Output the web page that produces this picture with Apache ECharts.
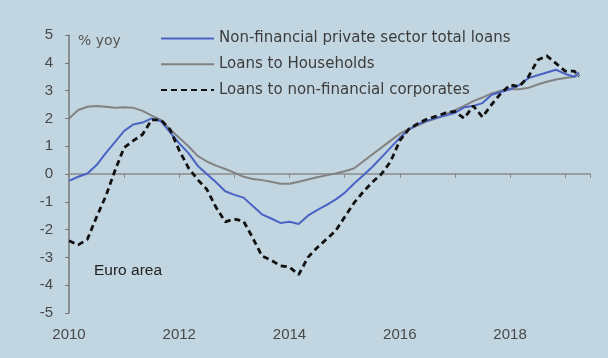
<!DOCTYPE html>
<html>
<head>
<meta charset="utf-8">
<script src="https://cdn.jsdelivr.net/npm/echarts@6/dist/echarts.min.js"></script>
<style>html,body{margin:0;padding:0;background:#c2d6e1;}#c{width:608px;height:358px;}</style>
</head>
<body>
<div id="c"></div>
<script>
// Bi-monthly observation dates
const dates = [
 '2010-01','2010-03','2010-05','2010-07','2010-09','2010-11',
 '2011-01','2011-03','2011-05','2011-07','2011-09','2011-11',
 '2012-01','2012-03','2012-05','2012-07','2012-09','2012-11',
 '2013-01','2013-03','2013-05','2013-07','2013-09','2013-11',
 '2014-01','2014-03','2014-05','2014-07','2014-09','2014-11',
 '2015-01','2015-03','2015-05','2015-07','2015-09','2015-11',
 '2016-01','2016-03','2016-05','2016-07','2016-09','2016-11',
 '2017-01','2017-03','2017-05','2017-07','2017-09','2017-11',
 '2018-01','2018-03','2018-05','2018-07','2018-09','2018-11',
 '2019-01','2019-03','2019-04'
];
// Non-financial private sector total loans (% yoy)
const totalLoans = [
 -0.25,-0.1,0.02,0.32,0.75,1.15,
 1.55,1.78,1.85,2.0,1.9,1.5,
 1.1,0.75,0.3,0.0,-0.3,-0.62,
 -0.75,-0.85,-1.15,-1.45,-1.6,-1.76,
 -1.72,-1.8,-1.5,-1.3,-1.12,-0.92,
 -0.68,-0.35,-0.05,0.25,0.6,0.95,
 1.3,1.6,1.8,1.92,2.02,2.1,
 2.2,2.4,2.45,2.55,2.85,2.95,
 3.05,3.2,3.45,3.55,3.65,3.75,
 3.6,3.5,3.65
];
// Loans to households (% yoy)
const households = [
 2.0,2.3,2.42,2.45,2.42,2.38,
 2.4,2.38,2.27,2.1,1.95,1.6,
 1.3,1.0,0.65,0.45,0.3,0.18,
 0.05,-0.1,-0.18,-0.22,-0.28,-0.35,
 -0.35,-0.28,-0.2,-0.12,-0.05,0.02,
 0.1,0.2,0.45,0.7,0.95,1.2,
 1.45,1.62,1.75,1.9,2.0,2.15,
 2.3,2.45,2.62,2.75,2.9,3.0,
 3.05,3.05,3.1,3.22,3.32,3.4,
 3.45,3.5,3.6
];
// Loans to non-financial corporates (% yoy)
const corporates = [
 -2.4,-2.55,-2.35,-1.55,-0.8,0.12,
 0.95,1.2,1.42,1.95,1.95,1.6,
 0.85,0.22,-0.2,-0.55,-1.2,-1.72,
 -1.62,-1.7,-2.3,-2.95,-3.1,-3.3,
 -3.35,-3.62,-3.0,-2.65,-2.35,-2.05,
 -1.55,-1.05,-0.65,-0.3,0.0,0.45,
 1.2,1.62,1.82,1.98,2.08,2.2,
 2.25,2.0,2.45,2.05,2.5,2.9,
 3.2,3.15,3.5,4.1,4.25,3.98,
 3.7,3.7,3.5
];
const seriesNames = ['Non-financial private sector total loans','Loans to Households','Loans to non-financial corporates'];
const yearLabels = [2010,2012,2014,2016,2018];

function dec(s){const p=s.split('-').map(Number);return p[0]+(p[1]-1)/12;}
function pairs(vals){return dates.map((d,i)=>[dec(d),vals[i]]);}

const chart = echarts.init(document.getElementById('c'), null, {renderer:'canvas'});
const axisFont = 'Liberation Sans, Arial, sans-serif';
chart.setOption({
  backgroundColor:'#c2d6e1',
  animation:false,
  grid:{left:69,right:18,top:35,bottom:45,containLabel:false},
  legend:{
    orient:'vertical',left:155,top:26,itemWidth:53,itemHeight:14,itemGap:10.8,
    data:seriesNames,
    itemStyle:{color:'rgba(0,0,0,0)',borderColor:'rgba(0,0,0,0)',borderWidth:0},
    textStyle:{fontFamily:'DejaVu Sans, sans-serif',fontSize:15,color:'#3c3c3c'}
  },
  xAxis:[{
    type:'value',min:2010,max:2019.45,interval:1,position:'bottom',
    axisLine:{show:false,onZero:false},axisTick:{show:false},splitLine:{show:false},
    axisLabel:{margin:14,fontFamily:axisFont,fontSize:15,color:'#484848',
      formatter:v=>yearLabels.indexOf(Math.round(v*100)/100)>=0?String(v):''}
  },{
    type:'value',min:2010,max:2019.45,interval:1,position:'bottom',
    axisLine:{show:true,onZero:true,lineStyle:{color:'#8a8a8a',width:1.5}},
    axisTick:{show:true,length:4,lineStyle:{color:'#8a8a8a'}},
    axisLabel:{show:false},splitLine:{show:false}
  }],
  yAxis:{
    type:'value',min:-5,max:5,interval:1,
    axisLine:{show:true,lineStyle:{color:'#777',width:1.5}},
    axisTick:{show:true,length:4,lineStyle:{color:'#777'}},
    splitLine:{show:false},
    axisLabel:{margin:16,fontFamily:axisFont,fontSize:15,color:'#484848'}
  },
  graphic:[
    {type:'text',left:78,top:34,style:{text:'% yoy',font:'14px DejaVu Sans',fill:'#555'}},
    {type:'text',left:94,top:263,style:{text:'Euro area',font:'15.5px Liberation Sans',fill:'#222'}}
  ],
  series:[
    {name:seriesNames[1],type:'line',xAxisIndex:0,data:pairs(households),symbol:'none',smooth:false,
      lineStyle:{color:'#828282',width:2},itemStyle:{color:'#828282'},z:2},
    {name:seriesNames[0],type:'line',xAxisIndex:0,data:pairs(totalLoans),symbol:'none',
      lineStyle:{color:'#4a62c4',width:2},itemStyle:{color:'#4a62c4'},z:3},
    {name:seriesNames[2],type:'line',xAxisIndex:0,data:pairs(corporates),symbol:'none',
      lineStyle:{color:'#111',width:2.8,type:[6,4]},itemStyle:{color:'#111'},z:4}
  ]
});
</script>
</body>
</html>
